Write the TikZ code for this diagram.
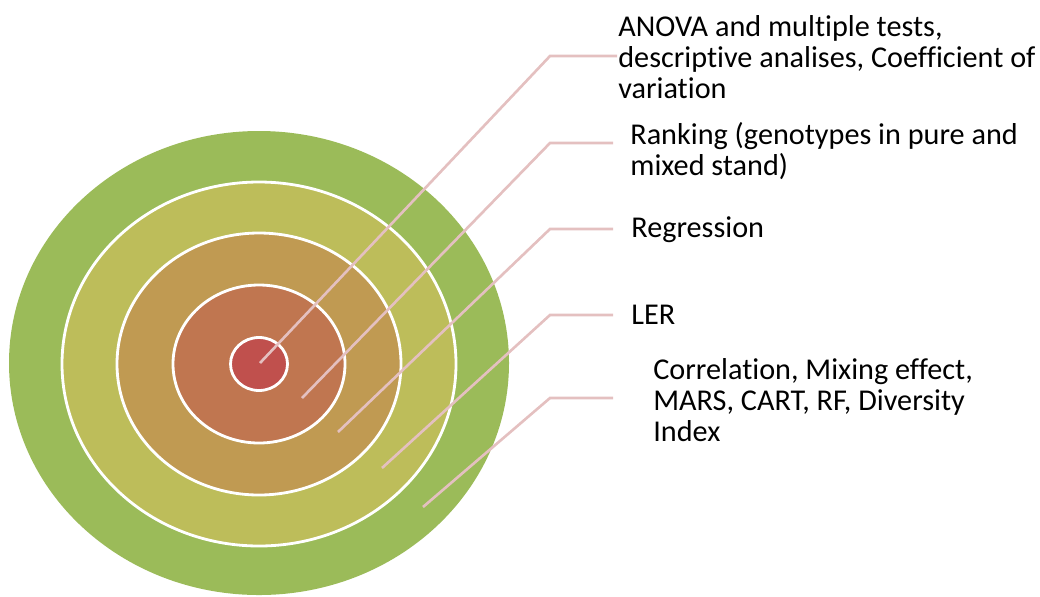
\documentclass[tikz,border=0pt]{standalone}
\usepackage{fontspec}
\setmainfont{Carlito}[Ligatures=NoCommon]
\definecolor{ringE}{HTML}{9BBB59}
\definecolor{ringD}{HTML}{BDBD5A}
\definecolor{ringC}{HTML}{C09A52}
\definecolor{ringB}{HTML}{C07650}
\definecolor{ringA}{HTML}{C0504D}
\definecolor{leadpink}{RGB}{228,192,192}
\begin{document}
\begin{tikzpicture}[x=0.02cm,y=-0.02cm,
	ring/.style={draw=white, line width=1.6pt},
	leader/.style={draw=leadpink, line width=1.5pt},
	tag/.style={anchor=west, align=left, inner sep=0pt, font=\fontsize{17.2}{17.8}\selectfont}]
	\useasboundingbox (0,0) rectangle (1040,596);
	\fill[ringE]       (259,363) ellipse (250 and 232);
	\filldraw[ringD,ring] (259,364) ellipse (197 and 182);
	\filldraw[ringC,ring] (259,364) ellipse (142 and 131);
	\filldraw[ringB,ring] (259,364) ellipse (86 and 79);
	\filldraw[ringA,ring] (259,364) ellipse (28.5 and 26.5);
	\node (T1) at (618, 57)	[tag]	{ANOVA and multiple tests,\\descriptive analises, Coefficient of\\variation};
	\node (T2) at (630,151)	[tag]	{Ranking (genotypes in pure and\\mixed stand)};
	\node (T3) at (631,230)	[tag]	{Regression};
	\node (T4) at (631,315)	[tag]	{LER};
	\node (T5) at (653,400)	[tag]	{Correlation, Mixing effect,\\MARS, CART, RF, Diversity\\Index};
	\coordinate (S1) at (260,363);	\coordinate (K1) at (550, 56);	\coordinate (E1) at (617, 56);
	\coordinate (S2) at (302,398);	\coordinate (K2) at (550,143);	\coordinate (E2) at (613,143);
	\coordinate (S3) at (338,432);	\coordinate (K3) at (550,229);	\coordinate (E3) at (613,229);
	\coordinate (S4) at (382,468);	\coordinate (K4) at (550,315);	\coordinate (E4) at (613,315);
	\coordinate (S5) at (423,507);	\coordinate (K5) at (550,398);	\coordinate (E5) at (613,398);
	\foreach \i in {1,...,5}
		\draw[leader] (S\i) -- (K\i) -- (E\i);
\end{tikzpicture}
\end{document}
